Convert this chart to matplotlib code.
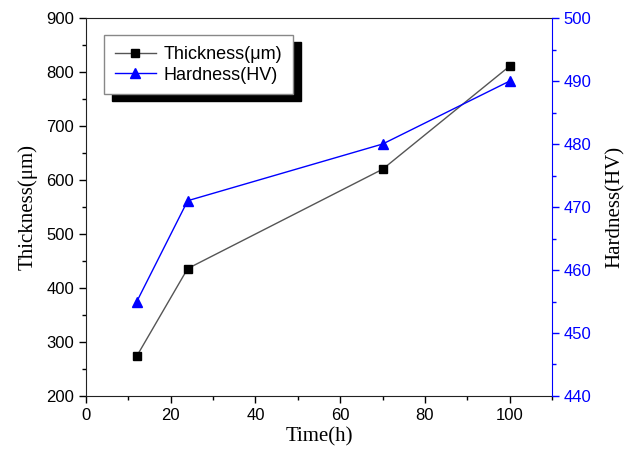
import matplotlib
matplotlib.use("Agg")
import matplotlib.pyplot as plt
from matplotlib.ticker import MultipleLocator

# data
time_h = [12, 24, 70, 100]
thickness = [274, 436, 620, 811]
hardness = [455, 471, 480, 490]

plt.rcParams['font.family'] = ['Liberation Sans', 'DejaVu Sans']

fig = plt.figure(figsize=(6.29, 4.57), dpi=100)
ax = fig.add_axes([0.1367, 0.1335, 0.741, 0.827])
ax2 = ax.twinx()

l1, = ax.plot(time_h, thickness, color='#555555', lw=1.0, marker='s',
              markersize=5.5, markerfacecolor='black', markeredgecolor='black',
              label='Thickness(\u03bcm)')
l2, = ax2.plot(time_h, hardness, color='blue', lw=1.0, marker='^',
               markersize=7, markerfacecolor='blue', markeredgecolor='blue',
               label='Hardness(HV)')

ax.set_xlim(0, 110)
ax.set_ylim(200, 900)
ax2.set_ylim(440, 500)

ax.xaxis.set_major_locator(MultipleLocator(20))
ax.xaxis.set_minor_locator(MultipleLocator(10))
ax.yaxis.set_major_locator(MultipleLocator(100))
ax.yaxis.set_minor_locator(MultipleLocator(50))
ax2.yaxis.set_major_locator(MultipleLocator(10))
ax2.yaxis.set_minor_locator(MultipleLocator(5))

ax.tick_params(which='both', direction='out', labelsize=12, width=1)
ax.tick_params(which='major', length=5)
ax.tick_params(which='minor', length=3)
ax2.tick_params(which='both', direction='out', labelsize=12, width=1,
                colors='blue')
ax2.tick_params(which='major', length=5)
ax2.tick_params(which='minor', length=3)

for s in ['left', 'bottom', 'top']:
    ax2.spines[s].set_visible(False)
    ax.spines[s].set_color('#222222')
ax2.spines['right'].set_color('blue')
ax.spines['right'].set_visible(False)

serif = ['Liberation Serif', 'DejaVu Serif']
ax.set_xlabel('Time(h)', fontsize=15, family=serif, labelpad=3)
ax.set_ylabel('Thickness(\u03bcm)', fontsize=15, family=serif, labelpad=6)
ax2.set_ylabel('Hardness(HV)', fontsize=15, family=serif, labelpad=10)

leg = ax.legend([l1, l2], [l1.get_label(), l2.get_label()],
                loc='upper left', bbox_to_anchor=(0.038, 0.955),
                borderaxespad=0, fontsize=13, fancybox=False,
                framealpha=1, edgecolor='#888888', handlelength=2.3,
                borderpad=0.6, labelspacing=0.2, handletextpad=0.4,
                shadow={'ox': 6, 'oy': -5, 'color': 'black', 'alpha': 1})
leg.get_frame().set_linewidth(1.0)

fig.savefig('out.png', dpi=100)
